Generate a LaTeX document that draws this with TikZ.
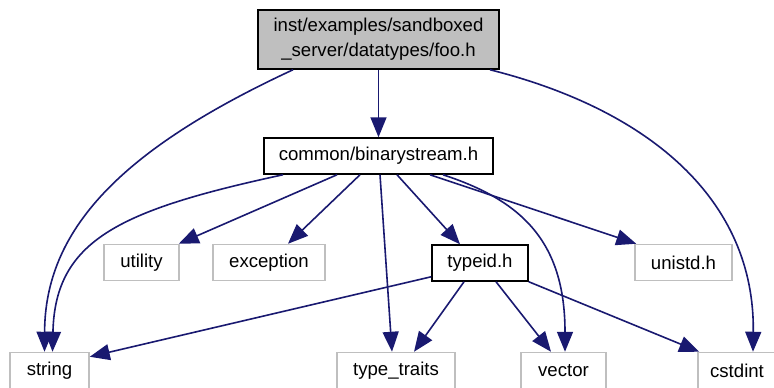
\documentclass[tikz,border=0pt]{standalone}
\usepackage{fontspec}
\setmainfont{Liberation Sans}
\usetikzlibrary{arrows.meta}
\definecolor{edgeblue}{HTML}{191970}
\definecolor{boxgray}{HTML}{BFBFBF}

\begin{document}
\begin{tikzpicture}[x=.5pt,y=-.5pt,
    font=\fontsize{9.3}{12.5}\selectfont,
    hdr/.style={rectangle,draw=black,line width=.75pt,inner sep=0pt},
    sysh/.style={rectangle,draw=boxgray,line width=.75pt,inner sep=0pt,
      minimum height=18pt},
    dep/.style={draw=edgeblue,line width=.8pt,
      -{Triangle[length=10pt,width=8pt]},edgeblue}]
            \useasboundingbox (0,0) rectangle (774,387);
            \draw (378.5,39.5) node[hdr,fill=boxgray,align=center,
             minimum width=120.5pt,minimum height=29.5pt] (foo)
             {inst/examples/sandboxed\\\_server/datatypes/foo.h};
            \draw (378.5,156) node[hdr,minimum width=114.5pt,
             minimum height=18pt] (bstream) {common/binarystream.h};
            \draw (141.5,262.5) node[sysh,minimum width=37.5pt] (utility) {utility};
            \draw (269,262.5) node[sysh,minimum width=56pt] (exception) {exception};
            \draw (480,263) node[hdr,minimum width=48pt,
             minimum height=18pt] (typeid) {typeid.h};
            \draw (683.5,262.5) node[sysh,minimum width=48.5pt] (unistd) {unistd.h};
            \draw (49.5,370.5) node[sysh,minimum width=39.5pt] (string) {string};
            \draw (396,370.5) node[sysh,minimum width=59pt] (traits) {type\_traits};
            \draw (563.5,370.5) node[sysh,minimum width=42.5pt] (vector) {vector};
            \draw (737,370.5) node[sysh,minimum width=39pt] (cstdint) {cstdint};
            \draw[dep] ([xshift=-42.75pt]foo.south) .. controls (120,150) and (45,230)
             .. ([xshift=-2.5pt]string.north);
            \draw[dep] (foo) -- (bstream);
            \draw[dep] ([xshift=55.75pt]foo.south) .. controls (650,110) and (755,200)
             .. ([xshift=8pt]cstdint.north);
            \draw[dep] ([xshift=-47.75pt]bstream.south) .. controls (120,210) and (55,240)
             .. ([xshift=1.5pt]string.north);
            \draw[dep] ([xshift=-20.75pt]bstream.south) -- ([xshift=-.5pt]utility.north east);
            \draw[dep] ([xshift=-9.25pt]bstream.south) -- ([xshift=9.5pt]exception.north);
            \draw[dep] ([xshift=.75pt]bstream.south) -- ([xshift=-2pt]traits.north);
            \draw[dep] ([xshift=9.25pt]bstream.south) -- ([xshift=-10pt]typeid.north);
            \draw[dep] ([xshift=32.25pt]bstream.south) .. controls (520,200) and (565,240)
             .. ([xshift=.75pt]vector.north);
            \draw[dep] ([xshift=25.75pt]bstream.south) -- ([xshift=1pt]unistd.north west);
            \draw[dep] ([yshift=2.5pt]typeid.south west) -- ([yshift=-2.5pt]string.north east);
            \draw[dep] ([xshift=-8pt]typeid.south) -- ([xshift=9pt]traits.north);
            \draw[dep] ([xshift=8pt]typeid.south) -- ([xshift=-6.25pt]vector.north);
            \draw[dep] (typeid.south east) -- ([xshift=1pt]cstdint.north west);
\end{tikzpicture}
\end{document}
